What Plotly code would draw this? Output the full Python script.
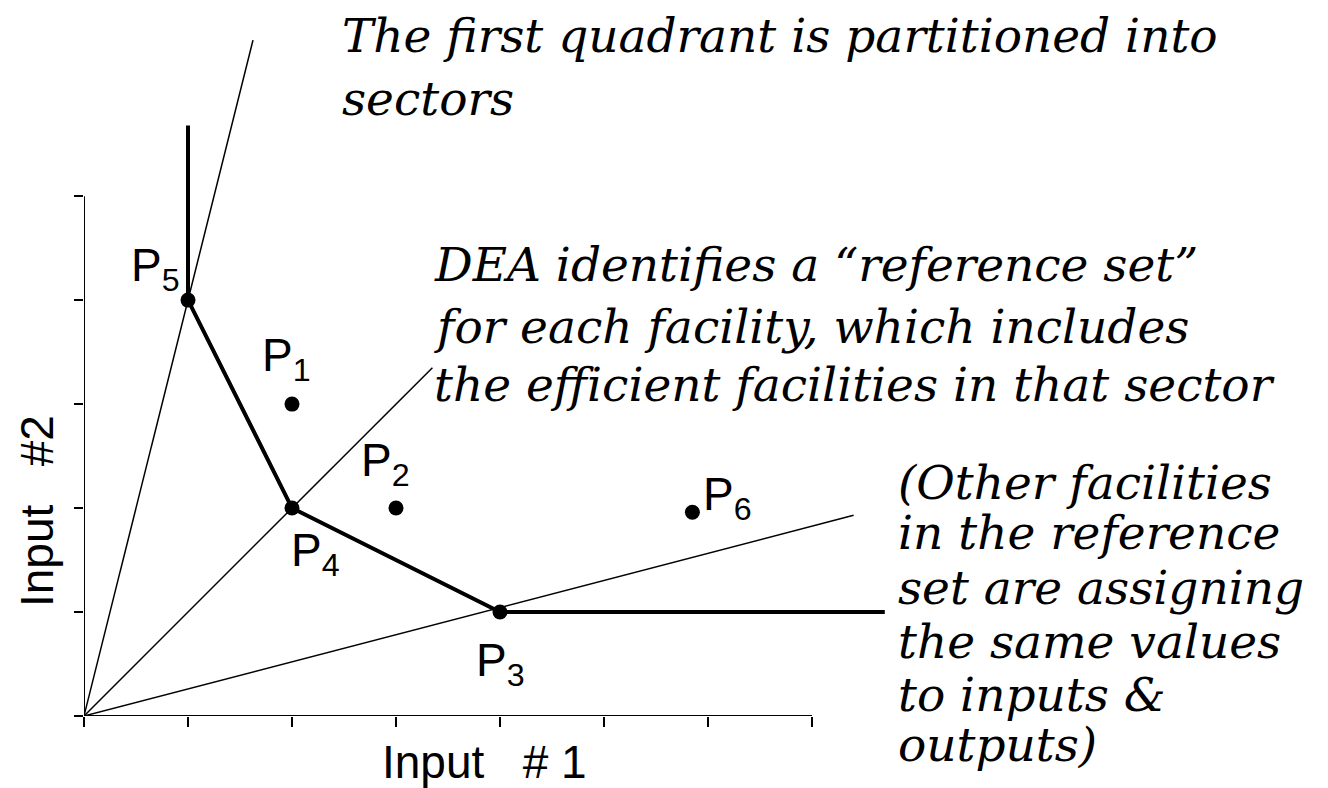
import plotly.graph_objects as go

# Facilities (Input #1, Input #2)
facility_names = ["P1", "P2", "P3", "P4", "P5", "P6"]
input1 = [2, 3, 4, 2, 1, 5.85]
input2 = [3, 2, 1, 2, 4, 1.96]

# Efficient frontier (vertical part, P5, P4, P3, horizontal part)
frontier_x = [1, 1, 2, 4, 7.7]
frontier_y = [5.68, 4, 2, 1, 1]

# Sector rays from the origin
ray_end_x = [1.625, 3.35, 7.4]
ray_end_y = [6.5, 3.35, 1.93]

x_ticks = [0, 1, 2, 3, 4, 5, 6, 7]
y_ticks = [0, 1, 2, 3, 4, 5]

note_top = ["The first quadrant is partitioned into", "sectors"]
note_mid = ["DEA identifies a \u201creference set\u201d",
            "for each facility, which includes",
            "the efficient facilities in that sector"]
note_right = ["(Other facilities", "in the reference", "set are assigning",
              "the same values", "to inputs &", "outputs)"]

# label offsets in pixels (dx, dy) for each facility
label_shift = {"P1": (-6, 46), "P2": (-11, 45), "P3": (0, -51),
               "P4": (23, -45), "P5": (-33, 32), "P6": (35, 15)}

# the page has an 8px body margin, so the figure is drawn 8px smaller
L, R, T, B = 76, 48, 1, 72
W, H = 1320, 780
PLOT_W = W - L - R
PLOT_H = H - T - B


def paper_x(px):
    # px measured on the 1328x788 screenshot
    return (px - 8 - L) / PLOT_W


def paper_y(py):
    return (H - B - (py - 8)) / PLOT_H


fig = go.Figure()

for ex, ey in zip(ray_end_x, ray_end_y):
    fig.add_trace(go.Scatter(x=[0, ex], y=[0, ey], mode="lines",
                             line=dict(color="black", width=1.5),
                             hoverinfo="skip"))

fig.add_trace(go.Scatter(x=frontier_x, y=frontier_y, mode="lines",
                         line=dict(color="black", width=4),
                         hoverinfo="skip"))

fig.add_trace(go.Scatter(x=input1, y=input2, mode="markers",
                         marker=dict(color="black", size=15, symbol="circle"),
                         text=facility_names, hoverinfo="text"))

# axis lines stop at the last tick
fig.add_shape(type="line", x0=0, y0=0, x1=x_ticks[-1], y1=0,
              line=dict(color="black", width=2))
fig.add_shape(type="line", x0=0, y0=0, x1=0, y1=y_ticks[-1],
              line=dict(color="black", width=2))

sans = dict(family="Liberation Sans", size=46, color="black")
for name, xv, yv in zip(facility_names, input1, input2):
    dx, dy = label_shift[name]
    fig.add_annotation(x=xv, y=yv, text="P<sub>%s</sub>" % name[1:],
                       showarrow=False, xshift=dx, yshift=dy, font=sans)

serif = dict(family="DejaVu Serif", style="italic", size=47, color="black")


def add_note(lines, left_px, baselines_px):
    for line, base in zip(lines, baselines_px):
        fig.add_annotation(x=paper_x(left_px), y=paper_y(base - 16),
                           xref="paper", yref="paper", text=line,
                           xanchor="left", yanchor="middle", showarrow=False,
                           font=serif)


add_note(note_top, 340, [52, 115])
add_note(note_mid, 432, [280, 342, 400])
add_note(note_right, 896, [498, 548, 603, 657, 710, 760])

fig.add_annotation(x=paper_x(484), y=paper_y(762), xref="paper", yref="paper",
                   xanchor="center", yanchor="middle",
                   text="Input\u00a0\u00a0\u00a0#\u00a01", showarrow=False, font=sans)
fig.add_annotation(x=paper_x(37), y=paper_y(511), xref="paper", yref="paper",
                   xanchor="center", yanchor="middle",
                   text="Input\u00a0\u00a0\u00a0#2", showarrow=False,
                   textangle=-90, font=sans)

fig.update_xaxes(range=[0, 11.5], tickvals=x_ticks, ticks="outside", ticklen=10,
                 tickwidth=2, tickcolor="black", showticklabels=False,
                 showgrid=False, zeroline=False, showline=False)
fig.update_yaxes(range=[0, 6.8], tickvals=y_ticks, ticks="outside", ticklen=9,
                 tickwidth=2, tickcolor="black", showticklabels=False,
                 showgrid=False, zeroline=False, showline=False)

fig.update_layout(width=W, height=H, showlegend=False,
                  margin=dict(l=L, r=R, t=T, b=B),
                  plot_bgcolor="white", paper_bgcolor="white")

fig.write_html("out.html")
